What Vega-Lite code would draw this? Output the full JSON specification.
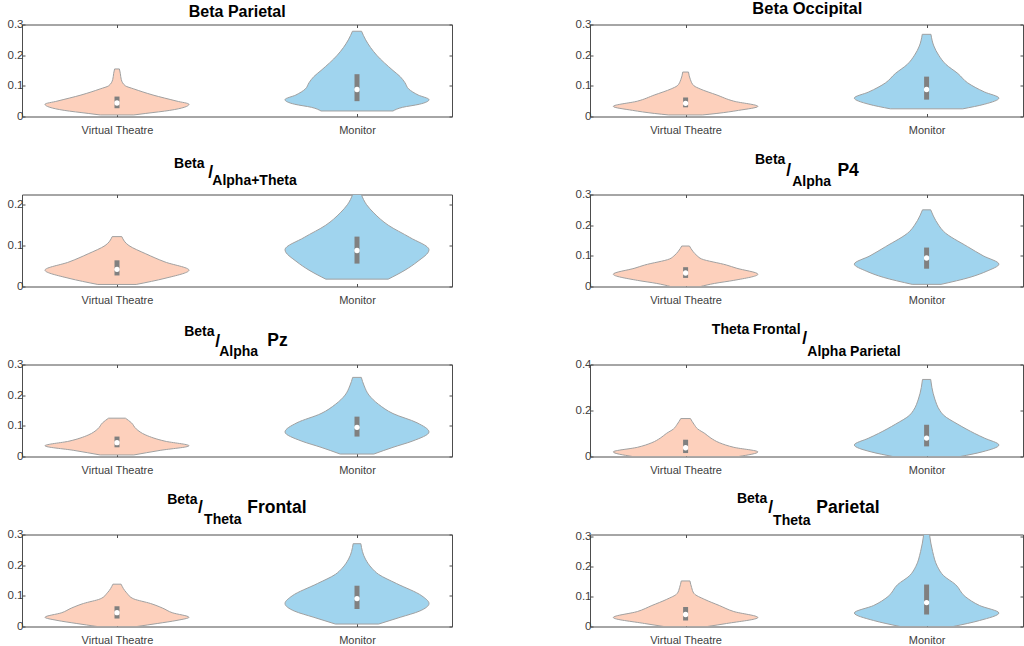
{
"$schema":"https://vega.github.io/schema/vega-lite/v6.json",
"background":"white",
"padding":{"left":6,"top":0.5,"right":0,"bottom":0},
"bounds":"flush",
"columns":2,
"spacing":{"column":138,"row":78},
"config":{
 "view":{"stroke":"#4d4d4d","strokeWidth":1},
 "axis":{"grid":false,"domain":false,"title":null,"tickColor":"#4d4d4d","tickSize":-3,"labelColor":"#404040","labelFont":"Liberation Sans","labelFontSize":11.5},
 "text":{"font":"Liberation Sans","fontWeight":"bold","color":"black","align":"left","baseline":"middle","fontSize":14}
},
"datasets":{
"violins":[
{"panel":"BP","group":"VT","value":0.005,"lo":0.93,"hi":1.07},{"panel":"BP","group":"VT","value":0.01,"lo":0.88,"hi":1.12},{"panel":"BP","group":"VT","value":0.02,"lo":0.78,"hi":1.22},{"panel":"BP","group":"VT","value":0.03,"lo":0.72,"hi":1.28},{"panel":"BP","group":"VT","value":0.04,"lo":0.7,"hi":1.3},{"panel":"BP","group":"VT","value":0.05,"lo":0.75,"hi":1.25},{"panel":"BP","group":"VT","value":0.07,"lo":0.85,"hi":1.15},{"panel":"BP","group":"VT","value":0.09,"lo":0.93,"hi":1.07},{"panel":"BP","group":"VT","value":0.1,"lo":0.965,"hi":1.035},{"panel":"BP","group":"VT","value":0.12,"lo":0.982,"hi":1.018},{"panel":"BP","group":"VT","value":0.14,"lo":0.986,"hi":1.014},{"panel":"BP","group":"VT","value":0.155,"lo":0.99,"hi":1.01},
{"panel":"BP","group":"M","value":0.018,"lo":1.85,"hi":2.15},{"panel":"BP","group":"M","value":0.03,"lo":1.81,"hi":2.19},{"panel":"BP","group":"M","value":0.04,"lo":1.74,"hi":2.26},{"panel":"BP","group":"M","value":0.055,"lo":1.7,"hi":2.3},{"panel":"BP","group":"M","value":0.07,"lo":1.745,"hi":2.255},{"panel":"BP","group":"M","value":0.09,"lo":1.785,"hi":2.215},{"panel":"BP","group":"M","value":0.11,"lo":1.8,"hi":2.2},{"panel":"BP","group":"M","value":0.13,"lo":1.82,"hi":2.18},{"panel":"BP","group":"M","value":0.15,"lo":1.85,"hi":2.15},{"panel":"BP","group":"M","value":0.2,"lo":1.918,"hi":2.082},{"panel":"BP","group":"M","value":0.25,"lo":1.964,"hi":2.036},{"panel":"BP","group":"M","value":0.278,"lo":1.981,"hi":2.019},
{"panel":"BO","group":"VT","value":0.005,"lo":0.93,"hi":1.07},{"panel":"BO","group":"VT","value":0.01,"lo":0.87,"hi":1.13},{"panel":"BO","group":"VT","value":0.02,"lo":0.78,"hi":1.22},{"panel":"BO","group":"VT","value":0.033,"lo":0.7,"hi":1.3},{"panel":"BO","group":"VT","value":0.05,"lo":0.8,"hi":1.2},{"panel":"BO","group":"VT","value":0.07,"lo":0.87,"hi":1.13},{"panel":"BO","group":"VT","value":0.09,"lo":0.94,"hi":1.06},{"panel":"BO","group":"VT","value":0.1,"lo":0.965,"hi":1.035},{"panel":"BO","group":"VT","value":0.12,"lo":0.98,"hi":1.02},{"panel":"BO","group":"VT","value":0.145,"lo":0.988,"hi":1.012},
{"panel":"BO","group":"M","value":0.025,"lo":1.85,"hi":2.15},{"panel":"BO","group":"M","value":0.04,"lo":1.76,"hi":2.24},{"panel":"BO","group":"M","value":0.06,"lo":1.7,"hi":2.3},{"panel":"BO","group":"M","value":0.08,"lo":1.76,"hi":2.24},{"panel":"BO","group":"M","value":0.11,"lo":1.83,"hi":2.17},{"panel":"BO","group":"M","value":0.14,"lo":1.87,"hi":2.13},{"panel":"BO","group":"M","value":0.17,"lo":1.92,"hi":2.08},{"panel":"BO","group":"M","value":0.2,"lo":1.95,"hi":2.05},{"panel":"BO","group":"M","value":0.23,"lo":1.97,"hi":2.03},{"panel":"BO","group":"M","value":0.268,"lo":1.982,"hi":2.018},
{"panel":"BAT","group":"VT","value":0.005,"lo":0.92,"hi":1.08},{"panel":"BAT","group":"VT","value":0.02,"lo":0.8,"hi":1.2},{"panel":"BAT","group":"VT","value":0.04,"lo":0.7,"hi":1.3},{"panel":"BAT","group":"VT","value":0.06,"lo":0.8,"hi":1.2},{"panel":"BAT","group":"VT","value":0.08,"lo":0.88,"hi":1.12},{"panel":"BAT","group":"VT","value":0.1,"lo":0.95,"hi":1.05},{"panel":"BAT","group":"VT","value":0.122,"lo":0.98,"hi":1.02},
{"panel":"BAT","group":"M","value":0.018,"lo":1.87,"hi":2.13},{"panel":"BAT","group":"M","value":0.04,"lo":1.8,"hi":2.2},{"panel":"BAT","group":"M","value":0.06,"lo":1.75,"hi":2.25},{"panel":"BAT","group":"M","value":0.09,"lo":1.7,"hi":2.3},{"panel":"BAT","group":"M","value":0.12,"lo":1.78,"hi":2.22},{"panel":"BAT","group":"M","value":0.15,"lo":1.87,"hi":2.13},{"panel":"BAT","group":"M","value":0.18,"lo":1.93,"hi":2.07},{"panel":"BAT","group":"M","value":0.2,"lo":1.96,"hi":2.04},{"panel":"BAT","group":"M","value":0.225,"lo":1.982,"hi":2.018},
{"panel":"BAP4","group":"VT","value":0,"lo":0.9375,"hi":1.0625},{"panel":"BAP4","group":"VT","value":0.01,"lo":0.88,"hi":1.12},{"panel":"BAP4","group":"VT","value":0.02,"lo":0.8,"hi":1.2},{"panel":"BAP4","group":"VT","value":0.04,"lo":0.7,"hi":1.3},{"panel":"BAP4","group":"VT","value":0.06,"lo":0.79,"hi":1.21},{"panel":"BAP4","group":"VT","value":0.07,"lo":0.83,"hi":1.17},{"panel":"BAP4","group":"VT","value":0.09,"lo":0.934,"hi":1.066},{"panel":"BAP4","group":"VT","value":0.1,"lo":0.952,"hi":1.048},{"panel":"BAP4","group":"VT","value":0.115,"lo":0.97,"hi":1.03},{"panel":"BAP4","group":"VT","value":0.132,"lo":0.984,"hi":1.016},
{"panel":"BAP4","group":"M","value":0.007,"lo":1.94,"hi":2.06},{"panel":"BAP4","group":"M","value":0.03,"lo":1.82,"hi":2.18},{"panel":"BAP4","group":"M","value":0.05,"lo":1.75,"hi":2.25},{"panel":"BAP4","group":"M","value":0.073,"lo":1.7,"hi":2.3},{"panel":"BAP4","group":"M","value":0.1,"lo":1.765,"hi":2.235},{"panel":"BAP4","group":"M","value":0.13,"lo":1.83,"hi":2.17},{"panel":"BAP4","group":"M","value":0.18,"lo":1.93,"hi":2.07},{"panel":"BAP4","group":"M","value":0.2,"lo":1.95,"hi":2.05},{"panel":"BAP4","group":"M","value":0.23,"lo":1.972,"hi":2.028},{"panel":"BAP4","group":"M","value":0.25,"lo":1.983,"hi":2.017},
{"panel":"BAPz","group":"VT","value":0.005,"lo":0.93,"hi":1.07},{"panel":"BAPz","group":"VT","value":0.02,"lo":0.82,"hi":1.18},{"panel":"BAPz","group":"VT","value":0.035,"lo":0.7,"hi":1.3},{"panel":"BAPz","group":"VT","value":0.05,"lo":0.8,"hi":1.2},{"panel":"BAPz","group":"VT","value":0.07,"lo":0.88,"hi":1.12},{"panel":"BAPz","group":"VT","value":0.09,"lo":0.92,"hi":1.08},{"panel":"BAPz","group":"VT","value":0.11,"lo":0.94,"hi":1.06},{"panel":"BAPz","group":"VT","value":0.125,"lo":0.965,"hi":1.035},
{"panel":"BAPz","group":"M","value":0.008,"lo":1.93,"hi":2.07},{"panel":"BAPz","group":"M","value":0.03,"lo":1.85,"hi":2.15},{"panel":"BAPz","group":"M","value":0.05,"lo":1.77,"hi":2.23},{"panel":"BAPz","group":"M","value":0.08,"lo":1.7,"hi":2.3},{"panel":"BAPz","group":"M","value":0.11,"lo":1.75,"hi":2.25},{"panel":"BAPz","group":"M","value":0.14,"lo":1.85,"hi":2.15},{"panel":"BAPz","group":"M","value":0.17,"lo":1.91,"hi":2.09},{"panel":"BAPz","group":"M","value":0.2,"lo":1.95,"hi":2.05},{"panel":"BAPz","group":"M","value":0.23,"lo":1.97,"hi":2.03},{"panel":"BAPz","group":"M","value":0.258,"lo":1.982,"hi":2.018},
{"panel":"TFAP","group":"VT","value":0,"lo":0.78,"hi":1.22},{"panel":"TFAP","group":"VT","value":0.02,"lo":0.7,"hi":1.3},{"panel":"TFAP","group":"VT","value":0.04,"lo":0.8,"hi":1.2},{"panel":"TFAP","group":"VT","value":0.06,"lo":0.86,"hi":1.14},{"panel":"TFAP","group":"VT","value":0.08,"lo":0.895,"hi":1.105},{"panel":"TFAP","group":"VT","value":0.1,"lo":0.92,"hi":1.08},{"panel":"TFAP","group":"VT","value":0.12,"lo":0.95,"hi":1.05},{"panel":"TFAP","group":"VT","value":0.14,"lo":0.965,"hi":1.035},{"panel":"TFAP","group":"VT","value":0.165,"lo":0.98,"hi":1.02},
{"panel":"TFAP","group":"M","value":0,"lo":1.86,"hi":2.14},{"panel":"TFAP","group":"M","value":0.02,"lo":1.77,"hi":2.23},{"panel":"TFAP","group":"M","value":0.05,"lo":1.7,"hi":2.3},{"panel":"TFAP","group":"M","value":0.08,"lo":1.76,"hi":2.24},{"panel":"TFAP","group":"M","value":0.1,"lo":1.8,"hi":2.2},{"panel":"TFAP","group":"M","value":0.14,"lo":1.87,"hi":2.13},{"panel":"TFAP","group":"M","value":0.18,"lo":1.93,"hi":2.07},{"panel":"TFAP","group":"M","value":0.2,"lo":1.945,"hi":2.055},{"panel":"TFAP","group":"M","value":0.25,"lo":1.966,"hi":2.034},{"panel":"TFAP","group":"M","value":0.3,"lo":1.978,"hi":2.022},{"panel":"TFAP","group":"M","value":0.335,"lo":1.983,"hi":2.017},
{"panel":"BTF","group":"VT","value":0,"lo":0.917,"hi":1.083},{"panel":"BTF","group":"VT","value":0.01,"lo":0.83,"hi":1.17},{"panel":"BTF","group":"VT","value":0.02,"lo":0.75,"hi":1.25},{"panel":"BTF","group":"VT","value":0.03,"lo":0.7,"hi":1.3},{"panel":"BTF","group":"VT","value":0.045,"lo":0.77,"hi":1.23},{"panel":"BTF","group":"VT","value":0.06,"lo":0.81,"hi":1.19},{"panel":"BTF","group":"VT","value":0.075,"lo":0.86,"hi":1.14},{"panel":"BTF","group":"VT","value":0.09,"lo":0.93,"hi":1.07},{"panel":"BTF","group":"VT","value":0.11,"lo":0.96,"hi":1.04},{"panel":"BTF","group":"VT","value":0.138,"lo":0.983,"hi":1.017},
{"panel":"BTF","group":"M","value":0.008,"lo":1.91,"hi":2.09},{"panel":"BTF","group":"M","value":0.03,"lo":1.82,"hi":2.18},{"panel":"BTF","group":"M","value":0.05,"lo":1.74,"hi":2.26},{"panel":"BTF","group":"M","value":0.075,"lo":1.7,"hi":2.3},{"panel":"BTF","group":"M","value":0.1,"lo":1.73,"hi":2.27},{"panel":"BTF","group":"M","value":0.14,"lo":1.835,"hi":2.165},{"panel":"BTF","group":"M","value":0.17,"lo":1.91,"hi":2.09},{"panel":"BTF","group":"M","value":0.19,"lo":1.938,"hi":2.062},{"panel":"BTF","group":"M","value":0.22,"lo":1.965,"hi":2.035},{"panel":"BTF","group":"M","value":0.27,"lo":1.984,"hi":2.016},
{"panel":"BTP","group":"VT","value":0,"lo":0.91,"hi":1.09},{"panel":"BTP","group":"VT","value":0.01,"lo":0.83,"hi":1.17},{"panel":"BTP","group":"VT","value":0.03,"lo":0.7,"hi":1.3},{"panel":"BTP","group":"VT","value":0.05,"lo":0.8,"hi":1.2},{"panel":"BTP","group":"VT","value":0.07,"lo":0.86,"hi":1.14},{"panel":"BTP","group":"VT","value":0.09,"lo":0.92,"hi":1.08},{"panel":"BTP","group":"VT","value":0.11,"lo":0.965,"hi":1.035},{"panel":"BTP","group":"VT","value":0.13,"lo":0.975,"hi":1.025},{"panel":"BTP","group":"VT","value":0.152,"lo":0.982,"hi":1.018},
{"panel":"BTP","group":"M","value":0,"lo":1.89,"hi":2.11},{"panel":"BTP","group":"M","value":0.02,"lo":1.78,"hi":2.22},{"panel":"BTP","group":"M","value":0.045,"lo":1.7,"hi":2.3},{"panel":"BTP","group":"M","value":0.07,"lo":1.78,"hi":2.22},{"panel":"BTP","group":"M","value":0.1,"lo":1.84,"hi":2.16},{"panel":"BTP","group":"M","value":0.14,"lo":1.88,"hi":2.12},{"panel":"BTP","group":"M","value":0.17,"lo":1.93,"hi":2.07},{"panel":"BTP","group":"M","value":0.2,"lo":1.955,"hi":2.045},{"panel":"BTP","group":"M","value":0.25,"lo":1.975,"hi":2.025},{"panel":"BTP","group":"M","value":0.307,"lo":1.988,"hi":2.012}
],
"boxes":[
{"panel":"BP","pos":1,"q1":0.027,"q3":0.065,"med":0.044},{"panel":"BP","pos":2,"q1":0.05,"q3":0.138,"med":0.088},
{"panel":"BO","pos":1,"q1":0.03,"q3":0.062,"med":0.043},{"panel":"BO","pos":2,"q1":0.055,"q3":0.13,"med":0.088},
{"panel":"BAT","pos":1,"q1":0.027,"q3":0.064,"med":0.042},{"panel":"BAT","pos":2,"q1":0.056,"q3":0.122,"med":0.088},
{"panel":"BAP4","pos":1,"q1":0.028,"q3":0.063,"med":0.044},{"panel":"BAP4","pos":2,"q1":0.058,"q3":0.127,"med":0.093},
{"panel":"BAPz","pos":1,"q1":0.03,"q3":0.065,"med":0.045},{"panel":"BAPz","pos":2,"q1":0.065,"q3":0.13,"med":0.095},
{"panel":"TFAP","pos":1,"q1":0.015,"q3":0.073,"med":0.038},{"panel":"TFAP","pos":2,"q1":0.044,"q3":0.138,"med":0.08},
{"panel":"BTF","pos":1,"q1":0.026,"q3":0.066,"med":0.045},{"panel":"BTF","pos":2,"q1":0.057,"q3":0.133,"med":0.091},
{"panel":"BTP","pos":1,"q1":0.02,"q3":0.065,"med":0.04},{"panel":"BTP","pos":2,"q1":0.04,"q3":0.14,"med":0.08}
]
},
"concat":[
{"width":430,"height":92,"resolve":{"axis":{"x":"independent","y":"independent"}},"layer":[
 {"data":{"name":"violins"},"transform":[{"filter":"datum.panel=='BP'"}],"mark":{"type":"area","orient":"horizontal","interpolate":"monotone","stroke":"#a0a0a0","strokeWidth":1,"clip":true},"encoding":{"y":{"field":"value","type":"quantitative","scale":{"domain":[0,0.3],"nice":false},"axis":{"orient":"left","values":[0,0.1,0.2,0.3],"format":".1~f"}},"x":{"field":"lo","type":"quantitative","scale":{"domain":[0.6042,2.3958],"nice":false},"axis":{"orient":"bottom","values":[1,2],"labelExpr":"datum.value==1?'Virtual Theatre':'Monitor'","labelFontSize":11,"labelPadding":10.5}},"x2":{"field":"hi"},"fill":{"field":"group","type":"nominal","scale":{"domain":["VT","M"],"range":["#fdd0bc","#a0d4ee"]},"legend":null}}},
 {"data":{"name":"boxes"},"transform":[{"filter":"datum.panel=='BP'"}],"mark":{"type":"rule","strokeWidth":5,"color":"#808080"},"encoding":{"x":{"field":"pos","type":"quantitative","axis":{"orient":"top","values":[1,2],"labels":false}},"y":{"field":"q1","type":"quantitative","axis":{"orient":"right","values":[0,0.1,0.2,0.3],"labels":false}},"y2":{"field":"q3"}}},
 {"data":{"name":"boxes"},"transform":[{"filter":"datum.panel=='BP'"}],"mark":{"type":"point","filled":true,"color":"white","opacity":1,"size":28},"encoding":{"x":{"field":"pos","type":"quantitative","axis":null},"y":{"field":"med","type":"quantitative","axis":null}}},
 {"data":{"values":[{"label":"Beta Parietal"}]},"mark":{"type":"text","align":"center","fontSize":16},"encoding":{"x":{"datum":1.501,"axis":null},"y":{"datum":0.342,"axis":null},"text":{"field":"label"}}}
]},
{"width":433,"height":92,"resolve":{"axis":{"x":"independent","y":"independent"}},"layer":[
 {"data":{"name":"violins"},"transform":[{"filter":"datum.panel=='BO'"}],"mark":{"type":"area","orient":"horizontal","interpolate":"monotone","stroke":"#a0a0a0","strokeWidth":1,"clip":true},"encoding":{"y":{"field":"value","type":"quantitative","scale":{"domain":[0,0.3],"nice":false},"axis":{"orient":"left","values":[0,0.1,0.2,0.3],"format":".1~f"}},"x":{"field":"lo","type":"quantitative","scale":{"domain":[0.6033,2.4],"nice":false},"axis":{"orient":"bottom","values":[1,2],"labelExpr":"datum.value==1?'Virtual Theatre':'Monitor'","labelFontSize":11,"labelPadding":10.5}},"x2":{"field":"hi"},"fill":{"field":"group","type":"nominal","scale":{"domain":["VT","M"],"range":["#fdd0bc","#a0d4ee"]},"legend":null}}},
 {"data":{"name":"boxes"},"transform":[{"filter":"datum.panel=='BO'"}],"mark":{"type":"rule","strokeWidth":5,"color":"#808080"},"encoding":{"x":{"field":"pos","type":"quantitative","axis":{"orient":"top","values":[1,2],"labels":false}},"y":{"field":"q1","type":"quantitative","axis":{"orient":"right","values":[0,0.1,0.2,0.3],"labels":false}},"y2":{"field":"q3"}}},
 {"data":{"name":"boxes"},"transform":[{"filter":"datum.panel=='BO'"}],"mark":{"type":"point","filled":true,"color":"white","opacity":1,"size":28},"encoding":{"x":{"field":"pos","type":"quantitative","axis":null},"y":{"field":"med","type":"quantitative","axis":null}}},
 {"data":{"values":[{"label":"Beta Occipital"}]},"mark":{"type":"text","align":"center","fontSize":16.5},"encoding":{"x":{"datum":1.505,"axis":null},"y":{"datum":0.35,"axis":null},"text":{"field":"label"}}}
]},
{"width":430,"height":92,"resolve":{"axis":{"x":"independent","y":"independent"}},"layer":[
 {"data":{"name":"violins"},"transform":[{"filter":"datum.panel=='BAT'"}],"mark":{"type":"area","orient":"horizontal","interpolate":"monotone","stroke":"#a0a0a0","strokeWidth":1,"clip":true},"encoding":{"y":{"field":"value","type":"quantitative","scale":{"domain":[0,0.225],"nice":false},"axis":{"orient":"left","values":[0,0.1,0.2],"format":".1~f"}},"x":{"field":"lo","type":"quantitative","scale":{"domain":[0.6042,2.3958],"nice":false},"axis":{"orient":"bottom","values":[1,2],"labelExpr":"datum.value==1?'Virtual Theatre':'Monitor'","labelFontSize":11,"labelPadding":10.5}},"x2":{"field":"hi"},"fill":{"field":"group","type":"nominal","scale":{"domain":["VT","M"],"range":["#fdd0bc","#a0d4ee"]},"legend":null}}},
 {"data":{"name":"boxes"},"transform":[{"filter":"datum.panel=='BAT'"}],"mark":{"type":"rule","strokeWidth":5,"color":"#808080"},"encoding":{"x":{"field":"pos","type":"quantitative","axis":{"orient":"top","values":[1,2],"labels":false}},"y":{"field":"q1","type":"quantitative","axis":{"orient":"right","values":[0,0.1,0.2],"labels":false}},"y2":{"field":"q3"}}},
 {"data":{"name":"boxes"},"transform":[{"filter":"datum.panel=='BAT'"}],"mark":{"type":"point","filled":true,"color":"white","opacity":1,"size":28},"encoding":{"x":{"field":"pos","type":"quantitative","axis":null},"y":{"field":"med","type":"quantitative","axis":null}}},
 {"data":{"values":[{"label":"Beta"}]},"mark":{"type":"text"},"encoding":{"x":{"datum":1.238,"axis":null},"y":{"datum":0.3008,"axis":null},"text":{"field":"label"}}},
 {"data":{"values":[{"label":"/"}]},"mark":{"type":"text","fontSize":17.5},"encoding":{"x":{"datum":1.38,"axis":null},"y":{"datum":0.2788,"axis":null},"text":{"field":"label"}}},
 {"data":{"values":[{"label":"Alpha+Theta"}]},"mark":{"type":"text"},"encoding":{"x":{"datum":1.397,"axis":null},"y":{"datum":0.2568,"axis":null},"text":{"field":"label"}}}
]},
{"width":433,"height":92,"resolve":{"axis":{"x":"independent","y":"independent"}},"layer":[
 {"data":{"name":"violins"},"transform":[{"filter":"datum.panel=='BAP4'"}],"mark":{"type":"area","orient":"horizontal","interpolate":"monotone","stroke":"#a0a0a0","strokeWidth":1,"clip":true},"encoding":{"y":{"field":"value","type":"quantitative","scale":{"domain":[0,0.3],"nice":false},"axis":{"orient":"left","values":[0,0.1,0.2,0.3],"format":".1~f"}},"x":{"field":"lo","type":"quantitative","scale":{"domain":[0.6033,2.4],"nice":false},"axis":{"orient":"bottom","values":[1,2],"labelExpr":"datum.value==1?'Virtual Theatre':'Monitor'","labelFontSize":11,"labelPadding":10.5}},"x2":{"field":"hi"},"fill":{"field":"group","type":"nominal","scale":{"domain":["VT","M"],"range":["#fdd0bc","#a0d4ee"]},"legend":null}}},
 {"data":{"name":"boxes"},"transform":[{"filter":"datum.panel=='BAP4'"}],"mark":{"type":"rule","strokeWidth":5,"color":"#808080"},"encoding":{"x":{"field":"pos","type":"quantitative","axis":{"orient":"top","values":[1,2],"labels":false}},"y":{"field":"q1","type":"quantitative","axis":{"orient":"right","values":[0,0.1,0.2,0.3],"labels":false}},"y2":{"field":"q3"}}},
 {"data":{"name":"boxes"},"transform":[{"filter":"datum.panel=='BAP4'"}],"mark":{"type":"point","filled":true,"color":"white","opacity":1,"size":28},"encoding":{"x":{"field":"pos","type":"quantitative","axis":null},"y":{"field":"med","type":"quantitative","axis":null}}},
 {"data":{"values":[{"label":"Beta"}]},"mark":{"type":"text"},"encoding":{"x":{"datum":1.288,"axis":null},"y":{"datum":0.411,"axis":null},"text":{"field":"label"}}},
 {"data":{"values":[{"label":"/"}]},"mark":{"type":"text","fontSize":17.5},"encoding":{"x":{"datum":1.4175,"axis":null},"y":{"datum":0.378,"axis":null},"text":{"field":"label"}}},
 {"data":{"values":[{"label":"Alpha"}]},"mark":{"type":"text"},"encoding":{"x":{"datum":1.4425,"axis":null},"y":{"datum":0.342,"axis":null},"text":{"field":"label"}}},
 {"data":{"values":[{"label":"P4"}]},"mark":{"type":"text","fontSize":17.5},"encoding":{"x":{"datum":1.63,"axis":null},"y":{"datum":0.378,"axis":null},"text":{"field":"label"}}}
]},
{"width":430,"height":92,"resolve":{"axis":{"x":"independent","y":"independent"}},"layer":[
 {"data":{"name":"violins"},"transform":[{"filter":"datum.panel=='BAPz'"}],"mark":{"type":"area","orient":"horizontal","interpolate":"monotone","stroke":"#a0a0a0","strokeWidth":1,"clip":true},"encoding":{"y":{"field":"value","type":"quantitative","scale":{"domain":[0,0.3],"nice":false},"axis":{"orient":"left","values":[0,0.1,0.2,0.3],"format":".1~f"}},"x":{"field":"lo","type":"quantitative","scale":{"domain":[0.6042,2.3958],"nice":false},"axis":{"orient":"bottom","values":[1,2],"labelExpr":"datum.value==1?'Virtual Theatre':'Monitor'","labelFontSize":11,"labelPadding":10.5}},"x2":{"field":"hi"},"fill":{"field":"group","type":"nominal","scale":{"domain":["VT","M"],"range":["#fdd0bc","#a0d4ee"]},"legend":null}}},
 {"data":{"name":"boxes"},"transform":[{"filter":"datum.panel=='BAPz'"}],"mark":{"type":"rule","strokeWidth":5,"color":"#808080"},"encoding":{"x":{"field":"pos","type":"quantitative","axis":{"orient":"top","values":[1,2],"labels":false}},"y":{"field":"q1","type":"quantitative","axis":{"orient":"right","values":[0,0.1,0.2,0.3],"labels":false}},"y2":{"field":"q3"}}},
 {"data":{"name":"boxes"},"transform":[{"filter":"datum.panel=='BAPz'"}],"mark":{"type":"point","filled":true,"color":"white","opacity":1,"size":28},"encoding":{"x":{"field":"pos","type":"quantitative","axis":null},"y":{"field":"med","type":"quantitative","axis":null}}},
 {"data":{"values":[{"label":"Beta"}]},"mark":{"type":"text"},"encoding":{"x":{"datum":1.28,"axis":null},"y":{"datum":0.4076,"axis":null},"text":{"field":"label"}}},
 {"data":{"values":[{"label":"/"}]},"mark":{"type":"text","fontSize":17.5},"encoding":{"x":{"datum":1.409,"axis":null},"y":{"datum":0.375,"axis":null},"text":{"field":"label"}}},
 {"data":{"values":[{"label":"Alpha"}]},"mark":{"type":"text"},"encoding":{"x":{"datum":1.426,"axis":null},"y":{"datum":0.342,"axis":null},"text":{"field":"label"}}},
 {"data":{"values":[{"label":"Pz"}]},"mark":{"type":"text","fontSize":17.5},"encoding":{"x":{"datum":1.626,"axis":null},"y":{"datum":0.378,"axis":null},"text":{"field":"label"}}}
]},
{"width":433,"height":92,"resolve":{"axis":{"x":"independent","y":"independent"}},"layer":[
 {"data":{"name":"violins"},"transform":[{"filter":"datum.panel=='TFAP'"}],"mark":{"type":"area","orient":"horizontal","interpolate":"monotone","stroke":"#a0a0a0","strokeWidth":1,"clip":true},"encoding":{"y":{"field":"value","type":"quantitative","scale":{"domain":[0,0.4],"nice":false},"axis":{"orient":"left","values":[0,0.2,0.4],"format":".1~f"}},"x":{"field":"lo","type":"quantitative","scale":{"domain":[0.6033,2.4],"nice":false},"axis":{"orient":"bottom","values":[1,2],"labelExpr":"datum.value==1?'Virtual Theatre':'Monitor'","labelFontSize":11,"labelPadding":10.5}},"x2":{"field":"hi"},"fill":{"field":"group","type":"nominal","scale":{"domain":["VT","M"],"range":["#fdd0bc","#a0d4ee"]},"legend":null}}},
 {"data":{"name":"boxes"},"transform":[{"filter":"datum.panel=='TFAP'"}],"mark":{"type":"rule","strokeWidth":5,"color":"#808080"},"encoding":{"x":{"field":"pos","type":"quantitative","axis":{"orient":"top","values":[1,2],"labels":false}},"y":{"field":"q1","type":"quantitative","axis":{"orient":"right","values":[0,0.2,0.4],"labels":false}},"y2":{"field":"q3"}}},
 {"data":{"name":"boxes"},"transform":[{"filter":"datum.panel=='TFAP'"}],"mark":{"type":"point","filled":true,"color":"white","opacity":1,"size":28},"encoding":{"x":{"field":"pos","type":"quantitative","axis":null},"y":{"field":"med","type":"quantitative","axis":null}}},
 {"data":{"values":[{"label":"Theta Frontal"}]},"mark":{"type":"text"},"encoding":{"x":{"datum":1.109,"axis":null},"y":{"datum":0.552,"axis":null},"text":{"field":"label"}}},
 {"data":{"values":[{"label":"/"}]},"mark":{"type":"text","fontSize":17.5},"encoding":{"x":{"datum":1.484,"axis":null},"y":{"datum":0.5087,"axis":null},"text":{"field":"label"}}},
 {"data":{"values":[{"label":"Alpha Parietal"}]},"mark":{"type":"text"},"encoding":{"x":{"datum":1.505,"axis":null},"y":{"datum":0.4565,"axis":null},"text":{"field":"label"}}}
]},
{"width":430,"height":92,"resolve":{"axis":{"x":"independent","y":"independent"}},"layer":[
 {"data":{"name":"violins"},"transform":[{"filter":"datum.panel=='BTF'"}],"mark":{"type":"area","orient":"horizontal","interpolate":"monotone","stroke":"#a0a0a0","strokeWidth":1,"clip":true},"encoding":{"y":{"field":"value","type":"quantitative","scale":{"domain":[0,0.3],"nice":false},"axis":{"orient":"left","values":[0,0.1,0.2,0.3],"format":".1~f"}},"x":{"field":"lo","type":"quantitative","scale":{"domain":[0.6042,2.3958],"nice":false},"axis":{"orient":"bottom","values":[1,2],"labelExpr":"datum.value==1?'Virtual Theatre':'Monitor'","labelFontSize":11,"labelPadding":10.5}},"x2":{"field":"hi"},"fill":{"field":"group","type":"nominal","scale":{"domain":["VT","M"],"range":["#fdd0bc","#a0d4ee"]},"legend":null}}},
 {"data":{"name":"boxes"},"transform":[{"filter":"datum.panel=='BTF'"}],"mark":{"type":"rule","strokeWidth":5,"color":"#808080"},"encoding":{"x":{"field":"pos","type":"quantitative","axis":{"orient":"top","values":[1,2],"labels":false}},"y":{"field":"q1","type":"quantitative","axis":{"orient":"right","values":[0,0.1,0.2,0.3],"labels":false}},"y2":{"field":"q3"}}},
 {"data":{"name":"boxes"},"transform":[{"filter":"datum.panel=='BTF'"}],"mark":{"type":"point","filled":true,"color":"white","opacity":1,"size":28},"encoding":{"x":{"field":"pos","type":"quantitative","axis":null},"y":{"field":"med","type":"quantitative","axis":null}}},
 {"data":{"values":[{"label":"Beta"}]},"mark":{"type":"text"},"encoding":{"x":{"datum":1.209,"axis":null},"y":{"datum":0.414,"axis":null},"text":{"field":"label"}}},
 {"data":{"values":[{"label":"/"}]},"mark":{"type":"text","fontSize":17.5},"encoding":{"x":{"datum":1.338,"axis":null},"y":{"datum":0.385,"axis":null},"text":{"field":"label"}}},
 {"data":{"values":[{"label":"Theta"}]},"mark":{"type":"text"},"encoding":{"x":{"datum":1.363,"axis":null},"y":{"datum":0.3457,"axis":null},"text":{"field":"label"}}},
 {"data":{"values":[{"label":"Frontal"}]},"mark":{"type":"text","fontSize":17.5},"encoding":{"x":{"datum":1.5425,"axis":null},"y":{"datum":0.385,"axis":null},"text":{"field":"label"}}}
]},
{"width":433,"height":92,"resolve":{"axis":{"x":"independent","y":"independent"}},"layer":[
 {"data":{"name":"violins"},"transform":[{"filter":"datum.panel=='BTP'"}],"mark":{"type":"area","orient":"horizontal","interpolate":"monotone","stroke":"#a0a0a0","strokeWidth":1,"clip":true},"encoding":{"y":{"field":"value","type":"quantitative","scale":{"domain":[0,0.307],"nice":false},"axis":{"orient":"left","values":[0,0.1,0.2,0.3],"format":".1~f"}},"x":{"field":"lo","type":"quantitative","scale":{"domain":[0.6033,2.4],"nice":false},"axis":{"orient":"bottom","values":[1,2],"labelExpr":"datum.value==1?'Virtual Theatre':'Monitor'","labelFontSize":11,"labelPadding":10.5}},"x2":{"field":"hi"},"fill":{"field":"group","type":"nominal","scale":{"domain":["VT","M"],"range":["#fdd0bc","#a0d4ee"]},"legend":null}}},
 {"data":{"name":"boxes"},"transform":[{"filter":"datum.panel=='BTP'"}],"mark":{"type":"rule","strokeWidth":5,"color":"#808080"},"encoding":{"x":{"field":"pos","type":"quantitative","axis":{"orient":"top","values":[1,2],"labels":false}},"y":{"field":"q1","type":"quantitative","axis":{"orient":"right","values":[0,0.1,0.2,0.3],"labels":false}},"y2":{"field":"q3"}}},
 {"data":{"name":"boxes"},"transform":[{"filter":"datum.panel=='BTP'"}],"mark":{"type":"point","filled":true,"color":"white","opacity":1,"size":28},"encoding":{"x":{"field":"pos","type":"quantitative","axis":null},"y":{"field":"med","type":"quantitative","axis":null}}},
 {"data":{"values":[{"label":"Beta"}]},"mark":{"type":"text"},"encoding":{"x":{"datum":1.213,"axis":null},"y":{"datum":0.4238,"axis":null},"text":{"field":"label"}}},
 {"data":{"values":[{"label":"/"}]},"mark":{"type":"text","fontSize":17.5},"encoding":{"x":{"datum":1.3425,"axis":null},"y":{"datum":0.3938,"axis":null},"text":{"field":"label"}}},
 {"data":{"values":[{"label":"Theta"}]},"mark":{"type":"text"},"encoding":{"x":{"datum":1.363,"axis":null},"y":{"datum":0.3537,"axis":null},"text":{"field":"label"}}},
 {"data":{"values":[{"label":"Parietal"}]},"mark":{"type":"text","fontSize":17.5},"encoding":{"x":{"datum":1.5425,"axis":null},"y":{"datum":0.3938,"axis":null},"text":{"field":"label"}}}
]}
]
}
